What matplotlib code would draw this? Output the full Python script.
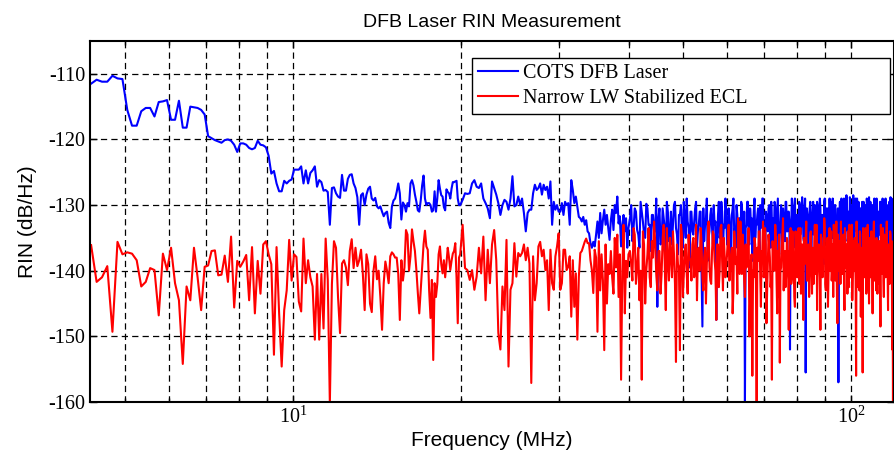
import numpy as np
import matplotlib.pyplot as plt
from matplotlib.ticker import NullFormatter

plt.rcParams['mathtext.fontset'] = 'custom'
plt.rcParams['mathtext.rm'] = 'Liberation Serif'
plt.rcParams['lines.scale_dashes'] = False
plt.rcParams['axes.unicode_minus'] = False

# RIN traces (dB/Hz)
# low band: 4.35 .. 19.95 MHz, 0.1 MHz steps
blue_lo = [
    -111.5, -110.9, -111.2, -111.2, -110.3, -110.7, -110.8, -115.5, -117.9, -117.9,
    -115.7, -115.2, -115.2, -116.5, -114.3, -114.2, -114.0, -117.0, -117.0, -114.1,
    -118.2, -118.2, -115.0, -115.1, -115.2, -115.5, -116.2, -119.5, -119.8, -120.1,
    -120.3, -120.5, -120.1, -120.0, -120.2, -120.8, -121.9, -120.6, -120.6, -120.8,
    -121.3, -121.5, -121.3, -120.2, -120.8, -120.9, -121.2, -122.5, -125.2, -124.8,
    -126.7, -127.9, -127.9, -126.3, -126.7, -126.3, -126.1, -124.6, -124.6, -124.6,
    -124.1, -126.7, -124.7, -126.7, -125.1, -124.7, -124.1, -127.2, -126.2, -126.5,
    -127.8, -127.7, -128.0, -133.0, -127.4, -127.3, -128.2, -128.7, -128.9, -125.4,
    -127.8, -127.8, -126.0, -125.4, -125.3, -126.7, -127.4, -128.8, -133.0, -128.5,
    -128.2, -130.0, -128.4, -127.5, -127.2, -129.0, -129.3, -128.9, -130.2, -130.5,
    -130.2, -131.0, -131.7, -131.2, -131.0, -132.7, -133.5, -130.2, -129.3, -129.0,
    -128.0, -126.7, -128.2, -132.2, -129.6, -130.0, -131.0, -129.7, -130.2, -126.7,
    -126.2, -127.0, -128.4, -129.5, -130.8, -131.0, -129.3, -127.0, -125.5, -129.0,
    -130.0, -129.7, -129.7, -130.0, -131.0, -130.8, -127.9, -131.0, -129.0, -126.2,
    -127.5, -128.5, -128.7, -130.3, -130.8, -127.6, -128.0, -128.2, -129.0, -127.5,
    -126.5, -126.5, -126.4, -126.3, -129.0, -130.0, -130.0,
]
red_lo = [
    -136.1, -141.7, -141.0, -139.3, -149.3, -135.6, -137.5, -137.2, -137.4, -138.4,
    -142.4, -141.7, -139.6, -139.9, -146.8, -137.4, -139.9, -136.5, -141.9, -144.5,
    -154.2, -142.4, -144.5, -136.5, -141.0, -146.0, -139.4, -139.2, -137.0, -136.9,
    -140.7, -140.6, -137.7, -141.7, -134.8, -145.6, -138.5, -139.4, -138.6, -137.6,
    -144.5, -136.4, -146.5, -138.5, -143.5, -136.0, -135.5, -137.5, -139.0, -152.8,
    -136.4, -146.5, -154.6, -146.0, -143.0, -135.3, -141.5, -137.5, -137.9, -144.7,
    -146.2, -135.1, -141.9, -138.4, -141.0, -142.4, -150.5, -140.5, -150.5, -140.5,
    -148.8, -135.1, -141.4, -160.2, -142.0, -135.5, -136.5, -144.0, -149.5, -138.9,
    -138.4, -139.5, -142.2, -137.0, -135.2, -139.6, -136.5, -139.3, -138.4, -136.8,
    -140.5, -146.0, -137.5, -139.0, -145.0, -146.3, -140.0, -137.8, -141.3, -140.0,
    -144.0, -149.0, -141.9, -138.6, -140.0, -141.9, -137.8, -137.2, -137.5, -138.0,
    -138.0, -140.5, -147.5, -138.4, -141.5, -139.5, -133.8, -134.5, -140.0, -137.8,
    -133.7, -135.5, -137.0, -139.9, -143.4, -146.5, -143.0, -139.4, -136.0, -133.9,
    -136.3, -136.8, -143.0, -147.2, -141.4, -153.6, -141.9, -144.0, -142.0, -137.5,
    -136.3, -139.0, -140.4, -138.4, -141.0, -138.9, -136.5, -138.0, -139.9, -138.5,
    -137.4, -137.0, -135.8, -141.0, -148.0, -138.0, -137.5,
]

# mid band: 20.15 .. 39.95 MHz, 0.2 MHz steps
blue_mid = [
    -129.2, -128.2, -128.3, -128.2, -126.7, -126.2, -127.2, -127.4, -126.7, -129.0,
    -129.7, -130.5, -132.0, -126.4, -127.4, -128.4, -129.7, -131.5, -130.0, -129.2,
    -129.5, -130.7, -129.0, -125.6, -130.2, -130.0, -128.7, -130.0, -129.0, -131.2,
    -134.0, -131.2, -130.7, -130.7, -128.2, -126.9, -127.7, -127.4, -126.7, -128.4,
    -126.9, -127.7, -127.2, -129.0, -126.4, -133.0, -129.5, -130.7, -130.0, -131.0,
    -131.0, -129.7, -131.5, -129.5, -130.0, -129.7, -133.0, -126.2, -127.7, -129.7,
    -128.7, -130.2, -131.8, -132.0, -132.5, -131.8, -133.0, -132.3, -134.0, -134.3,
    -135.8, -136.5, -135.6, -136.3, -134.5, -132.5, -135.0, -131.2, -134.3, -132.3,
    -130.7, -133.0, -131.5, -133.5, -135.3, -132.3, -130.7, -133.8, -130.0, -131.2,
    -128.7, -132.8, -131.7, -136.3, -133.0, -131.5, -134.0, -132.0, -136.5, -133.5,
]
red_mid = [
    -133.0, -139.6, -139.9, -141.4, -139.9, -142.9, -140.9, -136.5, -140.4, -134.8,
    -144.5, -136.8, -141.9, -136.0, -133.8, -138.4, -149.5, -152.0, -142.4, -146.0,
    -135.3, -154.6, -142.9, -141.9, -135.8, -140.9, -137.3, -137.8, -137.3, -136.0,
    -138.4, -136.5, -138.9, -157.1, -137.8, -144.5, -141.9, -136.3, -135.6, -137.8,
    -136.8, -139.9, -138.4, -146.0, -136.8, -141.9, -142.9, -137.8, -136.3, -134.3,
    -142.9, -141.9, -136.8, -136.8, -139.9, -139.4, -137.8, -147.0, -138.4, -145.5,
    -140.4, -150.5, -140.9, -137.3, -137.0, -136.3, -135.6, -135.1, -135.8, -135.8,
    -138.4, -139.9, -143.4, -136.8, -138.0, -149.3, -135.5, -143.0, -137.5, -141.5,
    -152.1, -136.0, -145.0, -139.0, -140.5, -137.0, -141.0, -143.5, -135.0, -139.5,
    -134.5, -144.0, -137.5, -156.6, -140.0, -133.0, -146.5, -138.5, -141.0, -137.5,
]

# high band, even samples: 40.2 .. 119.8 MHz every 0.4 MHz
blue_hi = [
    -132.0, -135.5, -130.5, -133.8, -136.5, -131.0, -134.5, -129.8, -133.0, -137.0,
    -131.5, -134.0, -145.5, -130.5, -135.5, -132.0, -138.0, -131.0, -134.5, -136.0,
    -130.0, -133.5, -137.5, -131.5, -134.0, -129.5, -135.0, -132.5, -139.5, -131.0,
    -134.5, -130.5, -136.5, -133.0, -131.0, -148.5, -135.5, -132.0, -138.5, -134.0,
    -130.5, -136.0, -133.0, -147.5, -131.5, -135.0, -129.5, -137.5, -133.5, -131.0,
    -135.5, -132.0, -139.0, -130.5, -134.0, -136.5, -131.5, -133.5, -138.0, -130.0,
    -134.5, -160.0, -133.0, -129.5, -136.0, -132.5, -138.5, -131.0, -135.0, -133.0,
    -130.5, -137.0, -133.5, -129.0, -135.5, -141.0, -131.5, -134.0, -130.0, -136.5,
    -132.5, -138.0, -129.5, -135.0, -131.0, -144.0, -133.5, -130.0, -137.0, -132.0,
    -135.5, -129.5, -134.0, -131.0, -152.0, -133.0, -130.5, -136.5, -129.0, -134.5,
    -131.5, -137.5, -130.0, -133.5, -128.8, -135.0, -132.0, -155.5, -130.5, -136.0,
    -132.5, -129.5, -138.5, -131.0, -134.5, -130.0, -136.0, -129.5, -133.0, -137.5,
    -130.5, -134.0, -131.5, -139.0, -129.0, -135.5, -132.0, -130.5, -137.0, -133.0,
    -129.5, -135.0, -131.0, -138.0, -130.0, -133.5, -136.5, -157.0, -131.5, -134.0,
    -129.0, -136.5, -132.0, -130.5, -135.5, -128.5, -133.5, -131.0, -137.0, -129.5,
    -134.5, -130.0, -128.5, -136.0, -131.5, -133.0, -129.0, -138.0, -131.0, -134.5,
    -130.5, -136.5, -132.0, -129.5, -135.0, -131.0, -139.0, -130.0, -133.5, -128.8,
    -135.5, -131.5, -137.0, -130.0, -134.0, -129.0, -136.5, -132.5, -130.5, -138.0,
    -131.0, -134.5, -129.5, -136.0, -132.0, -130.0, -137.5, -133.0, -129.0, -135.0,
    -131.5, -138.0, -130.0, -134.0, -128.8, -136.5, -132.0, -130.5, -135.5, -133.0,
]
red_hi = [
    -137.0, -141.5, -134.5, -139.5, -144.5, -156.6, -136.0, -140.0, -133.5, -142.5,
    -138.0, -135.5, -143.0, -137.0, -140.5, -133.0, -146.0, -138.5, -135.0, -141.0,
    -137.5, -153.9, -139.0, -152.1, -134.5, -140.5, -136.0, -143.5, -138.0, -141.5,
    -135.0, -139.0, -144.5, -136.5, -133.5, -141.0, -138.0, -145.0, -135.5, -139.5,
    -142.0, -134.0, -138.5, -147.5, -136.0, -140.0, -133.0, -143.0, -137.5, -139.5,
    -135.0, -141.5, -138.0, -146.5, -134.0, -139.0, -143.5, -136.5, -132.5, -140.5,
    -137.0, -144.0, -139.5, -135.0, -150.0, -138.5, -156.0, -141.0, -136.0, -160.0,
    -138.5, -134.0, -145.5, -137.0, -141.0, -133.5, -148.0, -139.0, -136.0, -142.5,
    -156.6, -137.5, -140.0, -135.0, -146.5, -138.5, -154.0, -139.5, -134.5, -143.0,
    -137.0, -140.5, -135.5, -149.0, -138.0, -142.0, -134.0, -139.5, -145.5, -136.5,
    -141.0, -133.5, -138.5, -143.5, -136.0, -147.5, -139.0, -135.0, -141.5, -137.5,
    -144.0, -134.5, -139.5, -136.5, -142.0, -133.0, -140.5, -146.0, -137.0, -139.0,
    -149.0, -135.5, -141.0, -137.5, -133.5, -143.0, -138.5, -145.5, -136.0, -140.0,
    -134.0, -139.5, -144.0, -137.0, -141.5, -132.5, -148.0, -138.5, -135.5, -142.0,
    -137.5, -140.5, -134.5, -146.0, -138.0, -136.0, -143.5, -139.0, -133.0, -141.0,
    -137.0, -144.5, -135.5, -140.0, -138.5, -156.0, -136.5, -142.5, -139.0, -134.0,
    -147.0, -138.0, -155.5, -136.0, -141.0, -133.5, -143.5, -139.5, -137.0, -145.0,
    -135.0, -140.0, -138.0, -146.5, -134.5, -141.5, -137.5, -143.0, -139.0, -135.5,
    -142.0, -137.0, -148.5, -136.0, -140.5, -133.5, -144.0, -138.5, -141.0, -135.0,
    -139.5, -146.0, -137.0, -142.0, -134.5, -140.0, -152.0, -160.0, -136.5, -141.0,
]

# high band, odd samples: 40.4 .. 120.0 MHz every 0.4 MHz
blue_hi_b = [
    -130.0, -133.5, -131.0, -134.5, -129.5, -132.5, -135.0, -130.5, -133.0, -131.5,
    -134.0, -129.0, -132.0, -136.0, -130.5, -133.5, -129.5, -135.5, -131.0, -133.0,
    -129.5, -134.5, -131.5, -130.0, -136.5, -132.0, -129.0, -133.5, -131.0, -134.0,
    -132.5, -129.5, -134.0, -131.0, -140.0, -130.5, -133.0, -129.0, -135.0, -131.5,
    -133.5, -130.0, -132.5, -135.5, -129.5, -134.0, -131.0, -133.0, -129.0, -136.0,
    -130.5, -134.5, -131.5, -129.0, -133.5, -130.0, -135.0, -132.0, -129.5, -134.0,
    -131.0, -133.5, -129.5, -135.5, -130.5, -132.0, -134.5, -129.0, -133.0, -131.5,
    -134.5, -130.0, -132.5, -129.0, -136.0, -131.0, -133.5, -130.5, -134.0, -129.5,
    -132.0, -135.5, -130.0, -133.0, -129.0, -134.5, -131.5, -137.5, -130.5, -133.0,
    -129.5, -134.0, -131.0, -132.5, -135.0, -129.0, -133.5, -130.5, -136.0, -131.5,
    -133.0, -129.5, -134.5, -131.0, -130.0, -135.5, -129.0, -133.0, -131.5, -134.0,
    -130.5, -136.0, -132.0, -129.5, -133.5, -131.0, -134.5, -130.0, -132.5, -129.0,
    -135.0, -131.5, -133.0, -129.5, -134.0, -130.5, -136.5, -131.0, -129.0, -133.5,
    -131.5, -129.0, -134.5, -130.0, -133.0, -135.5, -130.5, -132.0, -129.5, -134.0,
    -130.0, -133.5, -129.0, -135.0, -131.5, -130.0, -134.0, -132.5, -128.8, -133.0,
    -131.0, -135.5, -130.0, -132.5, -129.0, -134.0, -131.5, -129.5, -135.0, -130.5,
    -133.5, -129.5, -131.0, -134.5, -130.0, -132.5, -129.0, -135.5, -131.0, -133.0,
    -129.5, -134.0, -130.5, -132.0, -136.0, -130.0, -133.5, -129.0, -134.5, -131.5,
    -133.0, -129.5, -135.0, -131.0, -129.0, -134.0, -130.5, -132.5, -136.5, -130.0,
    -134.5, -131.0, -129.5, -133.0, -130.0, -135.5, -131.5, -129.0, -133.5, -130.5,
]
red_hi_b = [
    -139.0, -133.5, -142.0, -136.5, -140.0, -134.0, -145.0, -137.5, -141.0, -135.5,
    -132.5, -140.5, -137.0, -143.5, -135.0, -139.0, -133.5, -141.5, -137.5, -134.0,
    -142.0, -136.0, -139.5, -133.0, -144.0, -137.0, -140.5, -134.5, -138.5, -136.0,
    -141.0, -133.0, -137.5, -140.0, -135.5, -143.0, -136.5, -139.0, -132.5, -141.5,
    -137.0, -134.5, -140.0, -136.0, -142.5, -133.5, -138.5, -135.0, -141.0, -137.5,
    -133.0, -139.5, -136.5, -143.0, -135.5, -138.0, -132.0, -140.5, -137.0, -134.5,
    -141.5, -136.0, -139.0, -133.5, -144.5, -137.5, -140.0, -135.0, -142.0, -136.5,
    -134.0, -140.5, -137.0, -132.5, -139.5, -136.0, -143.0, -134.5, -138.0, -141.0,
    -135.5, -139.0, -133.0, -141.5, -137.0, -134.5, -140.0, -136.5, -132.0, -138.5,
    -142.5, -135.0, -139.5, -137.0, -133.5, -141.0, -136.0, -144.0, -134.0, -139.0,
    -136.5, -142.0, -133.5, -138.0, -140.5, -135.0, -137.5, -132.5, -141.5, -136.0,
    -139.5, -134.0, -143.5, -137.0, -135.5, -140.0, -133.0, -138.5, -136.0, -141.0,
    -134.5, -139.0, -136.5, -132.0, -142.0, -137.5, -135.0, -140.5, -133.5, -138.0,
    -141.5, -136.0, -133.0, -139.5, -137.0, -143.0, -134.5, -140.0, -136.5, -132.5,
    -138.5, -135.0, -141.0, -133.5, -139.5, -137.0, -134.0, -142.5, -136.0, -139.0,
    -133.0, -140.5, -137.5, -135.0, -141.5, -132.5, -138.0, -136.0, -143.0, -134.5,
    -139.5, -136.5, -133.5, -140.0, -137.0, -135.5, -142.0, -133.0, -138.5, -136.0,
    -141.0, -134.0, -139.0, -136.5, -132.5, -140.5, -137.5, -135.0, -143.5, -138.0,
    -135.5, -140.0, -133.0, -138.5, -136.0, -141.5, -134.5, -139.0, -137.0, -132.5,
    -140.5, -136.0, -142.0, -134.0, -138.5, -135.5, -141.0, -137.0, -133.5, -139.5,
]

labels = ['COTS DFB Laser', 'Narrow LW Stabilized ECL']
yticks = [-160, -150, -140, -130, -120, -110]


def sweep(lo, mid, hi_a, hi_b):
    hi = np.empty(len(hi_a) + len(hi_b))
    hi[0::2] = hi_a
    hi[1::2] = hi_b
    f = np.concatenate([4.35 + 0.1 * np.arange(len(lo)),
                        20.15 + 0.2 * np.arange(len(mid)),
                        40.2 + 0.2 * np.arange(len(hi))])
    return f, np.concatenate([lo, mid, hi])


f_blue, rin_blue = sweep(blue_lo, blue_mid, blue_hi, blue_hi_b)
f_red, rin_red = sweep(red_lo, red_mid, red_hi, red_hi_b)

fig = plt.figure(figsize=(8.94, 4.55), dpi=100)
ax = fig.add_axes([90 / 894, 1 - 402 / 455, 804 / 894, 361 / 455])

ax.plot(f_blue, rin_blue, color='#0000ff', lw=1.5, label=labels[0])
ax.plot(f_red, rin_red, color='#ff0000', lw=1.5, label=labels[1])

ax.set_xscale('log')
ax.set_xlim(4.33, 119.5)
ax.set_ylim(-160, -105)
ax.set_yticks(yticks)
ax.xaxis.set_minor_formatter(NullFormatter())

dash = (0, (4.5, 3.0))
ax.grid(True, which='both', axis='x', color='black', linestyle=dash, linewidth=0.9)
ax.grid(True, which='major', axis='y', color='black', linestyle=dash, linewidth=0.9)

ax.tick_params(which='both', direction='in', top=True, right=True, width=1)
ax.tick_params(which='major', length=5)
ax.tick_params(which='minor', length=3)
for lab in ax.get_xticklabels() + ax.get_yticklabels():
    lab.set_family('Liberation Serif')
    lab.set_fontsize(14.5)
for s in ax.spines.values():
    s.set_linewidth(1.5)

ax.set_title('DFB Laser RIN Measurement', family='Liberation Sans', fontsize=14, pad=10)
ax.set_xlabel('Frequency (MHz)', family='Liberation Sans', fontsize=15, labelpad=2)
ax.set_ylabel('RIN (dB/Hz)', family='Liberation Sans', fontsize=15, labelpad=8)

leg = ax.legend(loc='upper left', bbox_to_anchor=(0.475, 0.80, 0.52, 0.153),
                mode='expand', borderaxespad=0, fancybox=False, framealpha=1,
                edgecolor='black', handlelength=2.0, handletextpad=0.25,
                labelspacing=0.3, borderpad=0.3,
                prop={'family': 'Liberation Serif', 'size': 14.5})
leg.get_frame().set_linewidth(1.0)

fig.savefig('out.png', dpi=100)
